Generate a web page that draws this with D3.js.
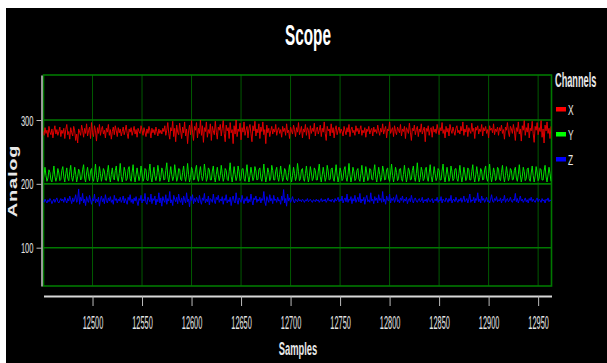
<!DOCTYPE html>
<html>
<head>
<meta charset="utf-8">
<script src="https://cdn.jsdelivr.net/npm/d3@7"></script>
<style>
    body { margin: 0; background: #ffffff; }
    text { font-family: "Liberation Sans", Arial, sans-serif; }
</style>
</head>
<body>
<svg id="scope" width="607" height="363"></svg>
<script>
// Sample range shown on the x axis
var firstSample = 12450;

// Tick labels
var xTicks = [12500, 12550, 12600, 12650, 12700, 12750, 12800, 12850, 12900, 12950];
var yTicks = [100, 200, 300];

// Channel names
var channels = ["X", "Y", "Z"];

//Colours
var red = "#e00000";
var green = "#00e000";
var blue = "#0000f0";
var gridGreen = "#007800";

// Channel X (one value per sample)
var xValues = [
    283, 276, 288, 279, 284, 273, 290, 281, 277, 286, 272, 283, 291, 278, 285, 276, 282, 289, 274, 284,
    279, 287, 271, 285, 293, 277, 282, 270, 288, 280, 275, 290, 283, 268, 278, 264, 286, 281, 276, 292,
    284, 273, 287, 279, 294, 275, 283, 289, 271, 296, 280, 274, 291, 283, 267, 288, 279, 293, 276, 285,
    290, 278, 284, 272, 287, 281, 293, 276, 285, 270, 282, 289, 277, 291, 283, 274, 288, 280, 286, 275,
    282, 289, 277, 284, 292, 279, 271, 286, 281, 288, 276, 283, 290, 278, 285, 273, 287, 282, 279, 291,
    284, 276, 288, 281, 274, 286, 279, 290, 283, 272, 287, 280, 285, 277, 289, 282, 275, 286, 279, 284,
    278, 287, 282, 291, 276, 284, 296, 279, 270, 288, 283, 298, 274, 287, 266, 292, 281, 277, 295, 283,
    271, 289, 280, 297, 275, 286, 263, 283, 292, 277, 299, 281, 268, 290, 284, 296, 272, 287, 279, 300,
    276, 291, 265, 288, 282, 297, 273, 285, 279, 294, 268, 290, 283, 277, 298, 281, 270, 289, 284, 293,
    275, 287, 299, 279, 266, 292, 283, 288, 271, 296, 280, 285, 263, 291, 278, 300, 274, 286, 282, 295,
    269, 288, 281, 297, 276, 284, 290, 272, 287, 293, 279, 266, 291, 283, 298, 275, 286, 280, 294, 271,
    289, 282, 297, 277, 285, 263, 292, 280, 287, 274, 283, 290, 278, 286, 281, 293, 276, 284, 288, 279,
    285, 273, 290, 282, 287, 276, 294, 280, 284, 271, 289, 283, 278, 292, 285, 274, 288, 281, 296, 277,
    283, 290, 272, 286, 281, 293, 276, 288, 284, 270, 291, 279, 287, 282, 295, 275, 285, 289, 278, 284,
    292, 274, 287, 281, 297, 279, 268, 290, 283, 286, 275, 294, 280, 288, 272, 285, 291, 277, 284, 289,
    279, 286, 282, 275, 290, 283, 277, 288, 281, 293, 274, 285, 289, 280, 284, 276, 291, 282, 287, 278,
    285, 291, 276, 284, 280, 288, 273, 286, 282, 290, 278, 284, 287, 275, 289, 281, 285, 279, 292, 283,
    276, 287, 281, 294, 278, 285, 290, 272, 286, 283, 297, 279, 284, 288, 274, 291, 282, 277, 289, 284,
    280, 293, 275, 286, 282, 290, 271, 288, 284, 279, 295, 281, 268, 287, 283, 292, 277, 285, 290, 274,
    286, 281, 294, 278, 284, 289, 266, 287, 282, 291, 276, 285, 288, 273, 290, 281, 286, 279, 293, 284,
    277, 288, 283, 296, 279, 285, 272, 290, 281, 287, 275, 293, 284, 279, 289, 282, 276, 287, 291, 280,
    284, 278, 290, 283, 297, 276, 286, 281, 292, 274, 288, 283, 279, 295, 282, 287, 271, 289, 284, 291,
    278, 286, 282, 293, 275, 288, 283, 290, 279, 285, 272, 291, 284, 287, 280, 294, 277, 286, 282, 289,
    276, 288, 283, 292, 279, 285, 270, 289, 284, 296, 281, 274, 290, 286, 279, 293, 283, 268, 288, 282,
    297, 278, 286, 267, 291, 284, 299, 276, 288, 281, 295, 272, 287, 283, 298, 279, 265, 290, 284, 296,
    277, 288, 282, 299, 273, 286, 264, 292, 283, 297, 279, 287, 271, 290
];

// Channel Y
var yValues = [
    205, 214, 226, 213, 204, 209, 222, 218, 206, 203, 215, 228, 212, 204, 210, 224, 217, 205, 207, 221,
    227, 211, 203, 216, 225, 209, 205, 219, 229, 210, 204, 213, 226, 215, 203, 211, 223, 219, 206, 208,
    222, 230, 209, 203, 217, 226, 212, 205, 220, 224, 208, 204, 214, 231, 213, 203, 210, 227, 216, 204,
    212, 224, 220, 206, 205, 218, 229, 211, 203, 215, 225, 210, 206, 221, 228, 209, 204, 216, 232, 212,
    203, 211, 226, 219, 205, 208, 223, 227, 208, 204, 218, 230, 211, 203, 214, 225, 214, 205, 212, 228,
    217, 204, 209, 224, 222, 206, 205, 219, 231, 210, 203, 216, 226, 212, 205, 213, 229, 218, 204, 210,
    225, 220, 206, 207, 221, 233, 211, 203, 215, 227, 214, 205, 211, 230, 217, 204, 209, 224, 223, 207,
    205, 218, 228, 212, 204, 214, 232, 215, 203, 210, 226, 221, 206, 207, 222, 229, 209, 204, 217, 227,
    213, 205, 212, 231, 218, 204, 209, 225, 222, 206, 206, 220, 228, 210, 203, 215, 226, 214, 205, 213,
    229, 216, 204, 210, 224, 221, 207, 205, 219, 233, 212, 203, 214, 227, 215, 205, 211, 228, 219, 205,
    208, 223, 224, 208, 204, 217, 230, 212, 203, 213, 226, 216, 205, 210, 227, 220, 206, 207, 222, 225,
    209, 204, 216, 231, 214, 203, 211, 225, 218, 205, 209, 229, 221, 206, 206, 220, 226, 210, 204, 215,
    228, 215, 204, 210, 224, 220, 207, 205, 218, 230, 212, 203, 213, 226, 216, 205, 211, 232, 219, 205,
    208, 222, 224, 208, 204, 216, 228, 213, 203, 212, 227, 217, 205, 209, 225, 221, 206, 206, 220, 231,
    211, 203, 214, 226, 215, 204, 210, 229, 220, 206, 207, 223, 225, 209, 204, 217, 230, 213, 203, 212,
    225, 218, 205, 208, 222, 227, 210, 204, 215, 232, 214, 203, 211, 226, 219, 205, 208, 221, 224, 208,
    204, 216, 229, 213, 203, 212, 227, 217, 205, 209, 224, 222, 207, 206, 219, 230, 211, 203, 214, 226,
    215, 204, 210, 228, 220, 206, 207, 222, 225, 209, 204, 217, 231, 213, 203, 212, 226, 218, 205, 208,
    223, 224, 208, 204, 215, 229, 214, 203, 211, 225, 220, 206, 207, 221, 228, 210, 204, 216, 233, 214,
    203, 210, 226, 219, 205, 208, 222, 226, 209, 204, 217, 230, 212, 203, 213, 227, 216, 205, 210, 224,
    221, 206, 206, 220, 231, 211, 203, 214, 226, 215, 204, 210, 228, 219, 205, 208, 223, 224, 208, 204,
    216, 229, 213, 203, 212, 226, 217, 205, 209, 225, 222, 206, 206, 219, 230, 211, 203, 214, 227, 215,
    204, 210, 224, 220, 206, 207, 222, 228, 209, 204, 216, 231, 213, 203, 212, 225, 218, 205, 208, 226,
    223, 207, 205, 218, 229, 212, 203, 213, 227, 216, 205, 210, 224, 221, 206, 207, 221, 226, 209, 204,
    215, 230, 214, 203, 211, 226, 219, 205, 208, 223, 225, 208, 204, 217, 228, 213, 203, 212, 227, 217,
    205, 209, 224, 222, 206, 206, 220, 229, 211, 203, 214, 226, 216, 204
];

// Channel Z
var zValues = [
    174, 171, 176, 173, 170, 175, 172, 177, 174, 169, 173, 176, 171, 175, 178, 172, 170, 174, 177, 173,
    176, 171, 179, 174, 170, 177, 173, 181, 175, 169, 178, 172, 176, 183, 171, 174, 192, 168, 179, 173,
    185, 170, 176, 166, 180, 174, 171, 182, 175, 168, 177, 173, 184, 170, 176, 172, 179, 165, 175, 181,
    172, 177, 169, 183, 174, 170, 178, 173, 180, 171, 175, 168, 182, 174, 177, 170, 176, 173, 179, 171,
    175, 181, 170, 177, 173, 168, 179, 174, 183, 171, 176, 169, 178, 173, 180, 172, 166, 177, 174, 182,
    170, 176, 173, 185, 171, 168, 179, 175, 172, 184, 169, 177, 174, 181, 167, 176, 172, 186, 170, 178,
    165, 180, 174, 171, 183, 168, 177, 173, 188, 170, 175, 166, 182, 176, 172, 179, 169, 184, 174, 171,
    178, 167, 181, 175, 170, 186, 172, 176, 164, 180, 174, 183, 169, 177, 172, 179, 175, 170, 182, 173,
    168, 178, 174, 185, 170, 176, 172, 181, 167, 177, 175, 171, 184, 173, 169, 179, 175, 182, 171, 176,
    173, 180, 168, 177, 174, 183, 170, 175, 172, 179, 166, 176, 181, 173, 170, 186, 174, 168, 178, 175,
    171, 182, 175, 169, 177, 173, 180, 170, 176, 172, 184, 174, 167, 178, 175, 181, 171, 176, 173, 179,
    170, 177, 174, 188, 172, 166, 180, 175, 171, 183, 173, 177, 169, 182, 174, 176, 171, 179, 173, 175,
    168, 181, 174, 191, 170, 177, 165, 184, 173, 178, 171, 175, 180, 173, 170, 176, 174, 172, 177, 173,
    175, 172, 176, 174, 171, 175, 173, 177, 172, 174, 176, 173, 171, 175, 174, 172, 176, 173, 175, 171,
    174, 177, 172, 175, 173, 176, 171, 174, 178, 173, 175, 172, 176, 174, 171, 177, 173, 175, 179, 172,
    176, 173, 181, 170, 175, 178, 172, 184, 171, 176, 174, 180, 169, 177, 173, 182, 171, 175, 179, 172,
    185, 170, 176, 173, 179, 168, 177, 182, 172, 175, 171, 186, 173, 176, 169, 180, 174, 178, 170, 183,
    174, 177, 171, 188, 172, 176, 168, 181, 175, 173, 184, 170, 177, 174, 179, 171, 176, 183, 172, 175,
    170, 178, 174, 181, 171, 176, 173, 179, 169, 175, 177, 172, 182, 174, 170, 176, 178, 173, 171, 175,
    177, 172, 174, 179, 170, 175, 173, 176, 171, 178, 174, 172, 175, 177, 170, 174, 176, 173, 179, 171,
    175, 173, 180, 170, 176, 174, 172, 178, 175, 171, 177, 173, 182, 170, 175, 176, 172, 179, 174, 171,
    176, 173, 178, 171, 175, 181, 172, 174, 177, 170, 176, 184, 171, 175, 173, 179, 170, 177, 174, 186,
    172, 176, 170, 181, 174, 177, 171, 175, 179, 172, 174, 170, 176, 183, 173, 171, 177, 174, 180, 172,
    175, 173, 178, 170, 176, 174, 182, 171, 175, 177, 172, 174, 179, 173, 171, 176, 174, 185, 172, 177,
    170, 175, 181, 173, 176, 171, 174, 178, 172, 175, 170, 177, 174, 179, 172, 176, 173, 171, 175, 178,
    172, 176, 174, 171, 177, 173, 175, 170, 176, 174, 178, 172, 175, 173
];

var seriesValues = [xValues, yValues, zValues];
var seriesColours = [red, green, blue];

function drawScope() {
    var svg = d3.select("#scope");

    // Black panel (the picture has a thin white margin top and left)
    svg.append("rect")
        .attr("x", 6)
        .attr("y", 8)
        .attr("width", 601)
        .attr("height", 355)
        .attr("fill", "#000000");

    // Plot area
    var left = 43.5, right = 551.5, top = 75, bottom = 286;

    var xScale = d3.scaleLinear()
        .domain([firstSample + 0.5, firstSample + 513.5])
        .range([left, right]);

    var yScale = d3.scaleLinear()
        .domain([40, 370.5])
        .range([bottom, top]);

    // Vertical grid lines
    svg.append("g")
        .selectAll("line")
        .data(xTicks)
        .enter()
        .append("line")
        .attr("x1", d => xScale(d))
        .attr("x2", d => xScale(d))
        .attr("y1", top)
        .attr("y2", bottom)
        .attr("stroke", "#005a00")
        .attr("stroke-width", 1);

    // Horizontal grid lines
    svg.append("g")
        .selectAll("line")
        .data(yTicks)
        .enter()
        .append("line")
        .attr("x1", left)
        .attr("x2", right)
        .attr("y1", d => yScale(d))
        .attr("y2", d => yScale(d))
        .attr("stroke", gridGreen)
        .attr("stroke-width", 1.6);

    // Plot border
    svg.append("rect")
        .attr("x", left)
        .attr("y", top)
        .attr("width", right - left)
        .attr("height", bottom - top)
        .attr("fill", "none")
        .attr("stroke", gridGreen)
        .attr("stroke-width", 1.6);

    // Clip for the traces
    svg.append("clipPath")
        .attr("id", "plotClip")
        .append("rect")
        .attr("x", left)
        .attr("y", top)
        .attr("width", right - left)
        .attr("height", bottom - top);

    var line = d3.line()
        .x((d, i) => xScale(firstSample + i))
        .y(d => yScale(d));

    svg.append("g")
        .attr("clip-path", "url(#plotClip)")
        .selectAll("path")
        .data(seriesValues)
        .enter()
        .append("path")
        .attr("d", d => line(d))
        .attr("fill", "none")
        .attr("stroke", (d, i) => seriesColours[i])
        .attr("stroke-width", 1);

    // X axis (sits a bit below the plot)
    var xAxis = d3.axisBottom(xScale)
        .tickValues(xTicks)
        .tickFormat(d3.format("d"))
        .tickSize(10)
        .tickSizeOuter(0);

    var gx = svg.append("g")
        .attr("transform", "translate(0,296)")
        .call(xAxis);

    gx.select(".domain")
        .attr("stroke", "#d8d8d8")
        .attr("stroke-width", 2);
    gx.selectAll(".tick line")
        .attr("stroke", "#bbbbbb");
    gx.selectAll(".tick text")
        .attr("y", null)
        .attr("dy", null)
        .attr("transform", "translate(0,33) scale(0.41,1)")
        .attr("fill", "#e4e4e4")
        .style("font-size", "18px");

    // Y axis
    var yAxis = d3.axisLeft(yScale)
        .tickValues(yTicks)
        .tickSize(5)
        .tickSizeOuter(0);

    var gy = svg.append("g")
        .attr("transform", "translate(41.5,0)")
        .call(yAxis);

    gy.select(".domain")
        .attr("stroke", "#c8c8c8")
        .attr("stroke-width", 1.5);
    gy.selectAll(".tick line")
        .attr("stroke", "#bbbbbb");
    gy.selectAll(".tick text")
        .attr("x", null)
        .attr("dy", null)
        .attr("transform", "translate(-8,5) scale(0.54,1)")
        .attr("fill", "#e4e4e4")
        .style("font-size", "14px");

    // Title
    svg.append("text")
        .attr("transform", "translate(308,45) scale(0.51,1)")
        .attr("text-anchor", "middle")
        .attr("fill", "#ffffff")
        .style("font-size", "30px")
        .style("font-weight", "bold")
        .text("Scope");

    // X axis label
    svg.append("text")
        .attr("transform", "translate(298,355) scale(0.52,1)")
        .attr("text-anchor", "middle")
        .attr("fill", "#e8e8e8")
        .style("font-size", "18px")
        .style("font-weight", "bold")
        .text("Samples");

    // Y axis label
    svg.append("text")
        .attr("transform", "translate(16.5,181) rotate(-90) scale(1,0.64)")
        .attr("text-anchor", "middle")
        .attr("fill", "#e8e8e8")
        .style("font-size", "20px")
        .style("font-weight", "bold")
        .style("letter-spacing", "0.8px")
        .text("Analog");

    // Legend
    var legend = svg.append("g")
        .attr("transform", "translate(555,0)");

    legend.append("text")
        .attr("transform", "translate(0,86.5) scale(0.46,1)")
        .attr("fill", "#e8e8e8")
        .style("font-size", "20px")
        .style("font-weight", "bold")
        .text("Channels");

    var legendY = d3.scalePoint()
        .domain(channels)
        .range([107, 157]);

    legend.selectAll("rect")
        .data(channels)
        .enter()
        .append("rect")
        .attr("x", 1)
        .attr("y", d => legendY(d))
        .attr("width", 10)
        .attr("height", 4.5)
        .attr("fill", (d, i) => ["#ff0000", "#00ff00", "#0000ff"][i]);

    legend.selectAll(".label")
        .data(channels)
        .enter()
        .append("text")
        .attr("class", "label")
        .attr("transform", d => "translate(13," + (legendY(d) + 7.5) + ") scale(0.6,1)")
        .attr("fill", "#e8e8e8")
        .style("font-size", "14px")
        .text(d => d);
}

drawScope();
</script>
</body>
</html>
